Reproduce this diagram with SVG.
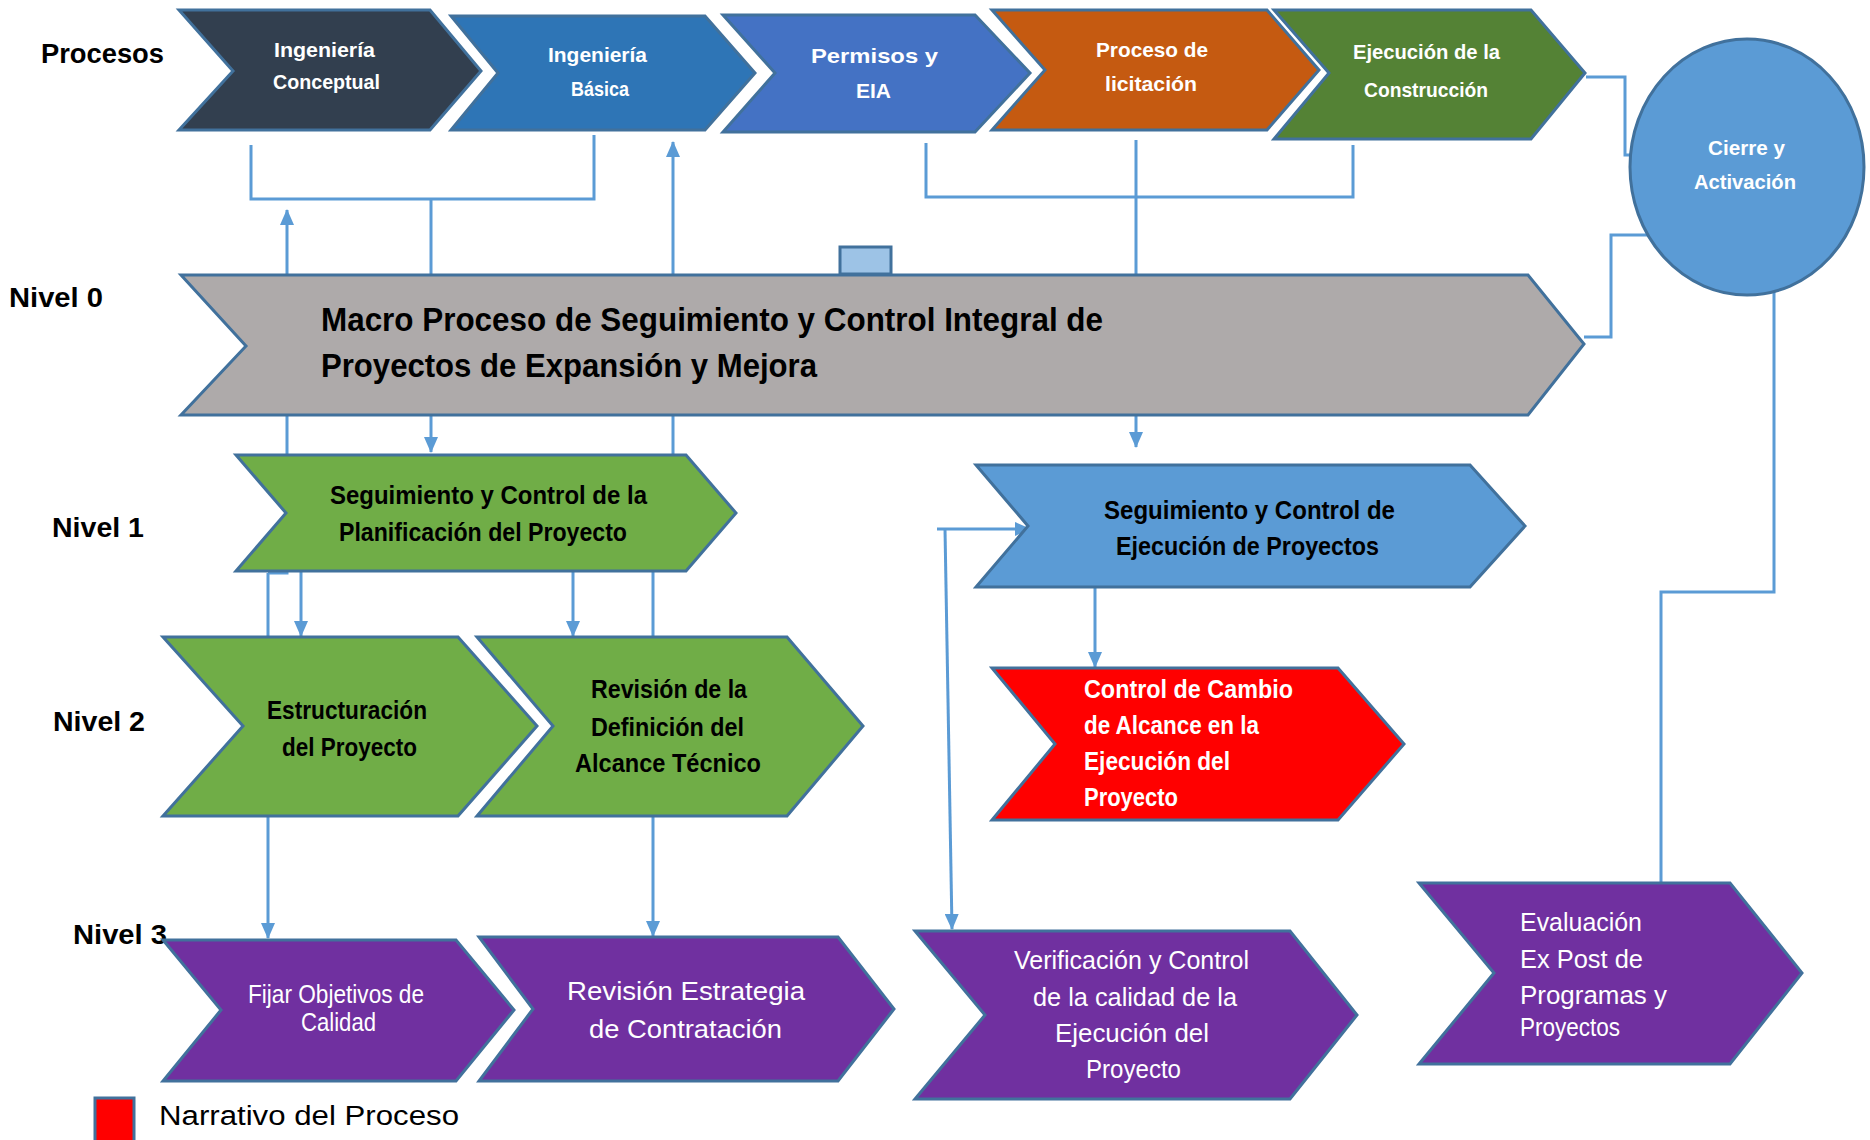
<svg xmlns="http://www.w3.org/2000/svg" width="1870" height="1140" viewBox="0 0 1870 1140">
<style>
.node{stroke:#41719c;stroke-width:3;stroke-linejoin:miter}
.conn{fill:none;stroke:#5b9bd5;stroke-width:3}
text{font-family:"Liberation Sans",Arial,sans-serif}
.lbl{font-size:27px;fill:#000}
.top{font-size:21px;font-weight:bold;fill:#fff}
.blk{font-size:26px;font-weight:bold;fill:#000}
.wht{font-size:26px;font-weight:bold;fill:#fff}
.pur{font-size:26px;fill:#fff}
</style>
<defs>
<marker id="arr" markerUnits="userSpaceOnUse" markerWidth="16" markerHeight="14" refX="15" refY="7" orient="auto">
<path d="M0,0 L16,7 L0,14 z" fill="#5b9bd5"/>
</marker>
</defs>
<rect width="1870" height="1140" fill="#fff"/>
<g id="connectors">
<path class="conn" d="M251,145 L251,199 L594,199 L594,135"/>
<path class="conn" d="M431,199 L431,452" marker-end="url(#arr)"/>
<path class="conn" d="M268,573 L287,573 L287,210" marker-end="url(#arr)"/>
<path class="conn" d="M268,573 L268,938" marker-end="url(#arr)"/>
<path class="conn" d="M673,455 L673,142" marker-end="url(#arr)"/>
<path class="conn" d="M301,571 L301,636" marker-end="url(#arr)"/>
<path class="conn" d="M573,571 L573,636" marker-end="url(#arr)"/>
<path class="conn" d="M653,571 L653,936" marker-end="url(#arr)"/>
<path class="conn" d="M926,143 L926,197 L1353,197 L1353,145"/>
<path class="conn" d="M1136,140 L1136,447" marker-end="url(#arr)"/>
<path class="conn" d="M1095,587 L1095,667" marker-end="url(#arr)"/>
<path class="conn" d="M937,529 L1030,529" marker-end="url(#arr)"/>
<path class="conn" d="M945,529 L952,929" marker-end="url(#arr)"/>
<path class="conn" d="M1586,77 L1625,77 L1625,155 L1634,155"/>
<path class="conn" d="M1584,337 L1611,337 L1611,235 L1650,235"/>
<path class="conn" d="M1774,292 L1774,592 L1661,592 L1661,883"/>
</g>
<g id="labels">
<text class="lbl" x="41" y="63" font-weight="bold" textLength="123" lengthAdjust="spacingAndGlyphs">Procesos</text>
<text class="lbl" x="9" y="307" font-weight="bold" textLength="94" lengthAdjust="spacingAndGlyphs">Nivel 0</text>
<text class="lbl" x="52" y="537" font-weight="bold" textLength="92" lengthAdjust="spacingAndGlyphs">Nivel 1</text>
<text class="lbl" x="53" y="731" font-weight="bold" textLength="92" lengthAdjust="spacingAndGlyphs">Nivel 2</text>
<text class="lbl" x="73" y="944" font-weight="bold" textLength="94" lengthAdjust="spacingAndGlyphs">Nivel 3</text>
</g>
<g id="ing-conceptual">
<polygon class="node" fill="#323f4f" points="179,10 430,10 481,71 430,130 179,130 233,71"/>
<text class="top" x="274" y="57" textLength="101" lengthAdjust="spacingAndGlyphs">Ingeniería</text>
<text class="top" x="273" y="89" textLength="107" lengthAdjust="spacingAndGlyphs">Conceptual</text>
</g>
<g id="ing-basica">
<polygon class="node" fill="#2e75b6" points="451,16 705,16 755,73 705,130 451,130 498,73"/>
<text class="top" x="548" y="62" textLength="99" lengthAdjust="spacingAndGlyphs">Ingeniería</text>
<text class="top" x="571" y="96" textLength="58" lengthAdjust="spacingAndGlyphs">Básica</text>
</g>
<g id="permisos">
<polygon class="node" fill="#4472c4" points="723,15 975,15 1030,73 975,132 723,132 775,73"/>
<text class="top" x="811" y="63" textLength="127" lengthAdjust="spacingAndGlyphs">Permisos y</text>
<text class="top" x="856" y="98" textLength="35" lengthAdjust="spacingAndGlyphs">EIA</text>
</g>
<g id="licitacion">
<polygon class="node" fill="#c55a11" points="992,10 1267,10 1319,70 1267,130 992,130 1045,70"/>
<text class="top" x="1096" y="57" textLength="112" lengthAdjust="spacingAndGlyphs">Proceso de</text>
<text class="top" x="1105" y="91" textLength="92" lengthAdjust="spacingAndGlyphs">licitación</text>
</g>
<g id="construccion">
<polygon class="node" fill="#548235" points="1274,10 1531,10 1585,73 1531,139 1274,139 1329,73"/>
<text class="top" x="1353" y="59" textLength="147" lengthAdjust="spacingAndGlyphs">Ejecución de la</text>
<text class="top" x="1364" y="97" textLength="124" lengthAdjust="spacingAndGlyphs">Construcción</text>
</g>
<g id="cierre">
<ellipse class="node" fill="#5b9bd5" cx="1747" cy="167" rx="117" ry="128"/>
<text class="top" x="1708" y="155" textLength="77" lengthAdjust="spacingAndGlyphs">Cierre y</text>
<text class="top" x="1694" y="189" textLength="102" lengthAdjust="spacingAndGlyphs">Activación</text>
</g>
<g id="macro">
<polygon class="node" fill="#aeaaaa" points="181,275 1528,275 1584,344 1528,415 181,415 246,346"/>
<text x="321" y="331" font-size="34" font-weight="bold" fill="#000" textLength="782" lengthAdjust="spacingAndGlyphs">Macro Proceso de Seguimiento y Control Integral de</text>
<text x="321" y="377" font-size="34" font-weight="bold" fill="#000" textLength="496" lengthAdjust="spacingAndGlyphs">Proyectos de Expansión y Mejora</text>
</g>
<g id="marker-box">
<rect class="node" fill="#9dc3e6" x="840" y="247" width="51" height="27"/>
</g>
<g id="planificacion">
<polygon class="node" fill="#70ad47" points="236,455 686,455 736,513 686,571 236,571 286,513"/>
<text class="blk" x="330" y="504" textLength="317" lengthAdjust="spacingAndGlyphs">Seguimiento y Control de la</text>
<text class="blk" x="339" y="541" textLength="288" lengthAdjust="spacingAndGlyphs">Planificación del Proyecto</text>
</g>
<g id="ejecucion">
<polygon class="node" fill="#5b9bd5" points="976,465 1470,465 1525,526 1470,587 976,587 1028,526"/>
<text class="blk" x="1104" y="519" textLength="291" lengthAdjust="spacingAndGlyphs">Seguimiento y Control de</text>
<text class="blk" x="1116" y="555" textLength="263" lengthAdjust="spacingAndGlyphs">Ejecución de Proyectos</text>
</g>
<g id="estructuracion">
<polygon class="node" fill="#70ad47" points="163,637 458,637 537,726 458,816 163,816 243,726"/>
<text class="blk" x="267" y="719" textLength="160" lengthAdjust="spacingAndGlyphs">Estructuración</text>
<text class="blk" x="282" y="756" textLength="135" lengthAdjust="spacingAndGlyphs">del Proyecto</text>
</g>
<g id="alcance-tecnico">
<polygon class="node" fill="#70ad47" points="477,637 787,637 863,726 787,816 477,816 553,726"/>
<text class="blk" x="591" y="698" textLength="156" lengthAdjust="spacingAndGlyphs">Revisión de la</text>
<text class="blk" x="591" y="736" textLength="153" lengthAdjust="spacingAndGlyphs">Definición del</text>
<text class="blk" x="575" y="772" textLength="186" lengthAdjust="spacingAndGlyphs">Alcance Técnico</text>
</g>
<g id="cambio-alcance">
<polygon class="node" fill="#ff0000" points="992,668 1338,668 1404,744 1338,820 992,820 1055,744"/>
<text class="wht" x="1084" y="698" textLength="209" lengthAdjust="spacingAndGlyphs">Control de Cambio</text>
<text class="wht" x="1084" y="734" textLength="175" lengthAdjust="spacingAndGlyphs">de Alcance en la</text>
<text class="wht" x="1084" y="770" textLength="146" lengthAdjust="spacingAndGlyphs">Ejecución del</text>
<text class="wht" x="1084" y="806" textLength="94" lengthAdjust="spacingAndGlyphs">Proyecto</text>
</g>
<g id="objetivos-calidad">
<polygon class="node" fill="#7030a0" points="163,940 456,940 514,1010 456,1081 163,1081 221,1010"/>
<text class="pur" x="248" y="1003" font-size="22" textLength="176" lengthAdjust="spacingAndGlyphs">Fijar Objetivos de</text>
<text class="pur" x="301" y="1031" font-size="22" textLength="75" lengthAdjust="spacingAndGlyphs">Calidad</text>
</g>
<g id="estrategia-contratacion">
<polygon class="node" fill="#7030a0" points="479,937 838,937 894,1009 838,1081 479,1081 533,1009"/>
<text class="pur" x="567" y="1000" font-size="28" textLength="238" lengthAdjust="spacingAndGlyphs">Revisión Estrategia</text>
<text class="pur" x="589" y="1038" font-size="28" textLength="193" lengthAdjust="spacingAndGlyphs">de Contratación</text>
</g>
<g id="verificacion-calidad">
<polygon class="node" fill="#7030a0" points="915,931 1290,931 1357,1015 1290,1099 915,1099 985,1015"/>
<text class="pur" x="1014" y="969" textLength="235" lengthAdjust="spacingAndGlyphs">Verificación y Control</text>
<text class="pur" x="1033" y="1006" textLength="204" lengthAdjust="spacingAndGlyphs">de la calidad de la</text>
<text class="pur" x="1055" y="1042" textLength="154" lengthAdjust="spacingAndGlyphs">Ejecución del</text>
<text class="pur" x="1086" y="1078" textLength="95" lengthAdjust="spacingAndGlyphs">Proyecto</text>
</g>
<g id="evaluacion-expost">
<polygon class="node" fill="#7030a0" points="1419,883 1730,883 1802,973 1730,1064 1419,1064 1494,973"/>
<text class="pur" x="1520" y="931" textLength="122" lengthAdjust="spacingAndGlyphs">Evaluación</text>
<text class="pur" x="1520" y="968" textLength="123" lengthAdjust="spacingAndGlyphs">Ex Post de</text>
<text class="pur" x="1520" y="1004" textLength="147" lengthAdjust="spacingAndGlyphs">Programas y</text>
<text class="pur" x="1520" y="1036" textLength="100" lengthAdjust="spacingAndGlyphs">Proyectos</text>
</g>
<g id="legend">
<rect class="node" fill="#ff0000" x="95" y="1098" width="39" height="44"/>
<text class="lbl" x="159" y="1125" textLength="300" lengthAdjust="spacingAndGlyphs">Narrativo del Proceso</text>
</g>
</svg>
